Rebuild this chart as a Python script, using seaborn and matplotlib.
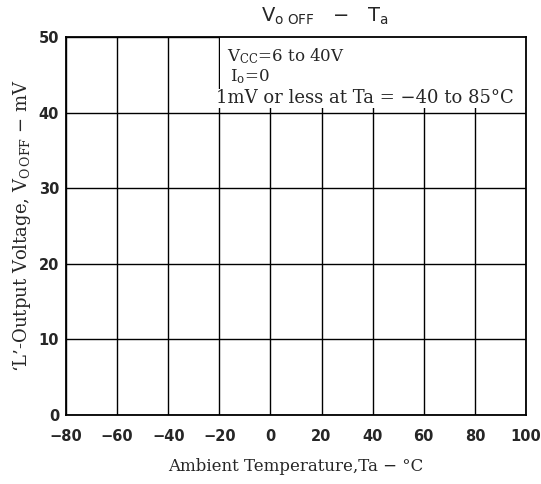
import matplotlib
matplotlib.use("Agg")
import matplotlib.pyplot as plt
import seaborn as sns
import pandas as pd
from matplotlib.patches import Rectangle

# Data / labels
x_ticks = [-80, -60, -40, -20, 0, 20, 40, 60, 80, 100]
y_ticks = [0, 10, 20, 30, 40, 50]
title_text = r"V$_{\mathsf{o\ OFF}}$   $\mathsf{-}$   T$_{\mathsf{a}}$"
xlabel_text = "Ambient Temperature,Ta − °C"
ylabel_text = r"‘L’-Output Voltage, V$_{\rm O\,OFF}$ − mV"
note_lines = [r"V$_{\rm CC}$=6 to 40V", r"I$_{\rm o}$=0", "1mV or less at Ta = −40 to 85°C"]

sns.set_style("white")
plt.rcParams['mathtext.fontset'] = 'dejavuserif'

fig = plt.figure(figsize=(5.41, 4.84), dpi=100)
ax = fig.add_axes([66/541, 1-415/484, (526-66)/541, (415-37)/484])

# empty series (no curve in reference)
df = pd.DataFrame({"Ta": pd.Series([], dtype=float), "V": pd.Series([], dtype=float)})
sns.lineplot(data=df, x="Ta", y="V", ax=ax)

ax.set_xlim(-80, 100)
ax.set_ylim(0, 50)
ax.set_xticks(x_ticks)
ax.set_yticks(y_ticks)
ax.set_xticklabels([str(t) if t >= 0 else f"−{abs(t)}" for t in x_ticks],
                   fontfamily="DejaVu Sans", fontweight="bold", fontsize=10.5)
ax.set_yticklabels([str(t) for t in y_ticks], fontfamily="DejaVu Sans", fontweight="bold", fontsize=10.5)
ax.tick_params(axis="x", length=0, pad=10)
ax.tick_params(axis="y", length=0, pad=5)
ax.grid(True, color="black", linewidth=1.0)
ax.set_axisbelow(True)
for s in ax.spines.values():
    s.set_color("black")
    s.set_linewidth(1.3)

ax.set_xlabel(xlabel_text, fontfamily="DejaVu Serif", fontsize=12, labelpad=10)
ax.set_ylabel(ylabel_text, fontfamily="DejaVu Serif", fontsize=13, labelpad=4)
fig.text(325/541, 1-15/484, title_text, fontfamily="DejaVu Sans", fontsize=14, ha="center", va="center")

# annotation box (white background hiding grid)
ax.add_patch(Rectangle((-19.6, 40.8), 119.6, 9.2, facecolor="white", edgecolor="none", zorder=2))
ax.text(-17, 47.5, note_lines[0], fontfamily="DejaVu Serif", fontsize=12, va="center", ha="left", zorder=4)
ax.text(-16, 44.7, note_lines[1], fontfamily="DejaVu Serif", fontsize=12, va="center", ha="left", zorder=4)
ax.text(-21.5, 41.9, note_lines[2], fontfamily="DejaVu Serif", fontsize=13, va="center", ha="left", zorder=4,
        bbox=dict(facecolor="white", edgecolor="none", pad=0.5))

fig.savefig("out.png", dpi=100)
